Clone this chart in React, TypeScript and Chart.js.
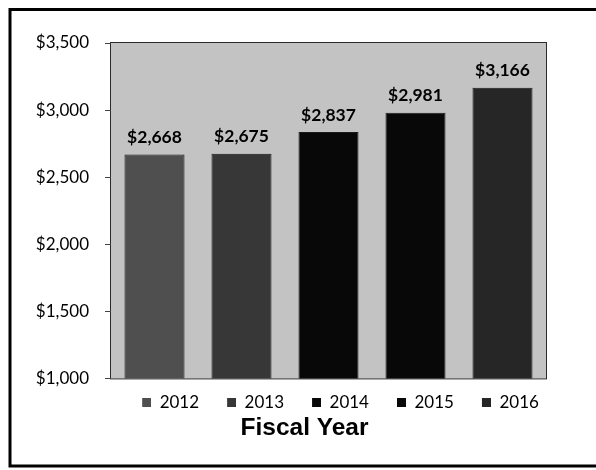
import { useEffect, useRef } from 'react';
import { Chart, registerables } from 'chart.js';

Chart.register(...registerables);

// ---- data ----
const categories = ['2012', '2013', '2014', '2015', '2016'];
const budgetValues = [2668, 2675, 2837, 2981, 3166];
const barColors = ['#4f4f4f', '#373737', '#080808', '#080808', '#262626'];
const yMin = 1000;
const yMax = 3500;
const yStep = 500;
const axisTitle = 'Fiscal Year';

const fmt = (v: number) => '$' + Number(v).toLocaleString('en-US');

const LEGEND_FONT = 17;
const LEGEND_PAD = 4;

export default function App() {
  const ref = useRef<HTMLCanvasElement>(null);

  useEffect(() => {
    const canvas = ref.current!;

    // measure legend text to size the legend marker images
    const mctx = document.createElement('canvas').getContext('2d')!;
    mctx.font = `normal ${LEGEND_FONT}px Lato`;
    const textW = Math.max(...categories.map((c) => mctx.measureText(c).width));
    const markerW = Math.max(12, Math.floor(85.8 - LEGEND_FONT / 2 - LEGEND_PAD - textW));

    const makeMarker = (color: string) => {
      const c = document.createElement('canvas');
      c.width = markerW;
      c.height = 9;
      const cx = c.getContext('2d')!;
      cx.fillStyle = color;
      cx.fillRect(markerW - 9, 0, 9, 9);
      return c;
    };
    const markers = barColors.map(makeMarker);

    const framePlugin = {
      id: 'frameAndPlot',
      beforeDraw(chart: any) {
        const { ctx, chartArea: a } = chart;
        ctx.save();
        // outer frame
        ctx.strokeStyle = '#000';
        ctx.lineWidth = 3;
        ctx.beginPath();
        ctx.moveTo(600, 9.5);
        ctx.lineTo(10, 9.5);
        ctx.lineTo(10, 466);
        ctx.lineTo(600, 466);
        ctx.stroke();
        // plot background
        ctx.fillStyle = '#c3c3c3';
        ctx.fillRect(a.left, a.top, a.right - a.left, a.bottom - a.top);
        ctx.strokeStyle = '#2a2a2a';
        ctx.lineWidth = 1;
        ctx.strokeRect(a.left - 0.5, a.top - 0.5, a.right - a.left + 1, a.bottom - a.top + 1);
        ctx.restore();
      },
    };

    const valueLabels = {
      id: 'valueLabels',
      afterDatasetsDraw(chart: any) {
        const { ctx } = chart;
        const meta = chart.getDatasetMeta(0);
        const data = chart.data.datasets[0].data as number[];
        ctx.save();
        ctx.font = 'bold 17.5px Lato';
        ctx.fillStyle = '#000';
        ctx.textAlign = 'center';
        ctx.textBaseline = 'middle';
        meta.data.forEach((el: any, i: number) => {
          ctx.fillText(fmt(data[i]), el.x, el.y - 17);
        });
        ctx.restore();
      },
    };

    const chart = new Chart(canvas, {
      type: 'bar',
      data: {
        labels: categories,
        datasets: [
          {
            label: axisTitle,
            data: budgetValues,
            backgroundColor: barColors,
            borderColor: '#1a1a1a',
            borderWidth: 1,
            categoryPercentage: 1,
            barPercentage: 0.69,
          },
        ],
      },
      options: {
        animation: false,
        responsive: false,
        devicePixelRatio: 1,
        layout: { padding: { left: 35, right: 22, top: 43, bottom: 27.2 } },
        scales: {
          x: {
            display: true,
            grid: { display: false },
            border: { display: false },
            ticks: { display: false },
            afterFit: (s: any) => {
              s.height = 12;
            },
          },
          y: {
            min: yMin,
            max: yMax,
            border: { display: false },
            grid: {
              drawOnChartArea: false,
              drawTicks: true,
              tickLength: 6,
              color: '#444',
            },
            ticks: {
              stepSize: yStep,
              padding: 16,
              color: '#000',
              font: { family: 'Lato', size: 17 },
              callback: (v: any) => fmt(v),
            },
            afterFit: (s: any) => {
              s.width = 76;
            },
          },
          // empty right-hand spacer so the bottom title is centred like the original
          ySpacer: {
            type: 'linear',
            position: 'right',
            display: true,
            grid: { display: false },
            border: { display: false },
            ticks: { display: false },
            afterFit: (s: any) => {
              s.width = 28;
            },
          },
        },
        plugins: {
          tooltip: { enabled: false },
          legend: {
            display: true,
            position: 'bottom',
            fullSize: false,
            align: 'center',
            labels: {
              usePointStyle: true,
              pointStyleWidth: markerW,
              padding: LEGEND_PAD,
              color: '#000',
              font: { family: 'Lato', size: LEGEND_FONT },
              generateLabels: (ch: any) =>
                (ch.data.labels as string[]).map((lab: string, i: number) => ({
                  text: lab,
                  fillStyle: barColors[i],
                  strokeStyle: barColors[i],
                  lineWidth: 0,
                  pointStyle: markers[i],
                  hidden: false,
                  index: i,
                  datasetIndex: 0,
                })),
            },
          },
          title: {
            display: true,
            text: axisTitle,
            position: 'bottom',
            color: '#000',
            font: { family: 'Liberation Sans', size: 24.5, weight: 'bold', lineHeight: 1.2 },
            padding: { top: -8, bottom: 0 },
          },
        },
      } as any,
      plugins: [framePlugin, valueLabels],
    });

    return () => chart.destroy();
  }, []);

  return (
    <div style={{ position: 'absolute', left: 0, top: 0, width: 596, height: 470, background: '#fff' }}>
      <canvas ref={ref} width={596} height={470} style={{ display: 'block', width: 596, height: 470 }} />
    </div>
  );
}
